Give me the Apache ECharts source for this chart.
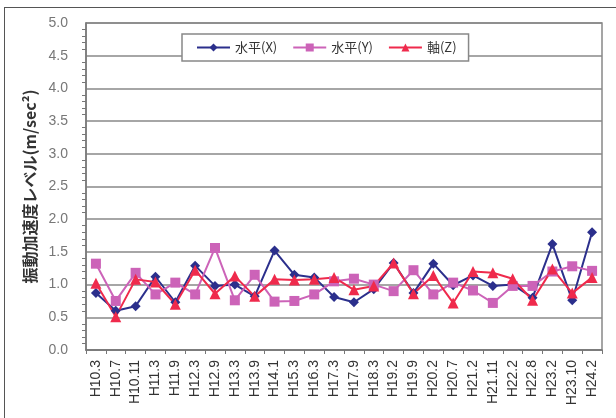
<!DOCTYPE html>
<html>
<head>
<meta charset="utf-8">
<script src="https://cdn.jsdelivr.net/npm/echarts@6/dist/echarts.min.js"></script>
<style>
html,body{margin:0;padding:0;background:#fff;}
#container1{width:616px;height:418px;}
</style>
</head>
<body>
<div id="container1"></div>
<script>
// 測定時期
var dates = ['H10.3','H10.7','H10.11','H11.3','H11.9','H12.3','H12.9','H13.3','H13.9','H14.1',
	'H15.3','H16.3','H17.3','H17.9','H18.3','H19.2','H19.9','H20.2','H20.7','H21.2',
	'H21.11','H22.2','H22.8','H23.2','H23.10','H24.2'];
// 水平(X)
var xLevel = [0.87,0.60,0.67,1.12,0.73,1.29,0.98,1.00,0.82,1.52,
	1.15,1.11,0.81,0.73,0.93,1.33,0.87,1.32,0.99,1.14,
	0.98,1.00,0.80,1.62,0.76,1.80];
// 水平(Y)
var yLevel = [1.32,0.75,1.18,0.85,1.03,0.85,1.56,0.76,1.15,0.74,
	0.75,0.85,1.05,1.09,1.00,0.90,1.22,0.85,1.03,0.91,
	0.72,0.98,0.98,1.20,1.28,1.21];
// 軸(Z)
var zLevel = [1.02,0.51,1.08,1.04,0.70,1.22,0.86,1.13,0.82,1.08,
	1.07,1.08,1.11,0.92,0.98,1.33,0.86,1.14,0.72,1.20,
	1.18,1.09,0.76,1.24,0.87,1.11];

var myChart = echarts.init(document.getElementById('container1'));

var option = {
	animation: false,
	textStyle: {fontFamily: 'Liberation Sans, Arial, sans-serif'},
	// 外枠
	graphic: [
		{type:'line', shape:{x1:4, y1:7.5, x2:616, y2:7.5}, style:{stroke:'#555', lineWidth:1}},
		{type:'line', shape:{x1:4.5, y1:7, x2:4.5, y2:418}, style:{stroke:'#555', lineWidth:1}}
	],
	grid: {
		left: 86, right: 14, top: 23, bottom: 68,
		show: true,
		borderColor: '#888',
		borderWidth: 1.5
	},
	legend: {
		left: 182, top: 34,
		padding: [7, 12, 7, 14],
		backgroundColor: '#fff',
		borderColor: '#888',
		borderWidth: 1.5,
		borderRadius: 0,
		itemWidth: 33,
		itemHeight: 10,
		itemGap: 15,
		itemStyle: {borderWidth: 0},
		textStyle: {fontSize: 13, color: '#333', fontFamily: 'Noto Sans CJK JP, sans-serif'},
		data: ['水平(X)', '水平(Y)', '軸(Z)']
	},
	xAxis: {
		type: 'category',
		data: dates,
		boundaryGap: true,
		axisLine: {lineStyle: {color: '#777', width: 1.5}},
		axisTick: {show: true, inside: false, length: 4, lineStyle: {color: '#777'}},
		axisLabel: {rotate: 90, interval: 0, margin: 10, fontSize: 14, color: '#333'}
	},
	yAxis: {
		type: 'value',
		min: 0, max: 5, interval: 0.5,
		name: '振動加速度レベル(m/sec²)',
		nameLocation: 'middle',
		nameGap: 47,
		nameRotate: 90,
		nameTextStyle: {fontSize: 16, color: '#333', fontWeight: 'bold', fontFamily: 'Noto Sans CJK JP, sans-serif'},
		axisLine: {show: true, lineStyle: {color: '#777', width: 1.5}},
		axisTick: {show: false},
		minorTick: {show: true, inside: true, splitNumber: 5, length: 4, lineStyle: {color: '#777'}},
		axisLabel: {
			fontSize: 14, color: '#777', margin: 18,
			formatter: function (v) { return v.toFixed(1); }
		},
		splitLine: {lineStyle: {color: '#888', width: 1.5}}
	},
	series: [
		{
			name: '水平(X)', type: 'line', data: xLevel,
			color: '#2b2f8c',
			symbol: 'diamond', symbolSize: 10,
			lineStyle: {width: 2}
		},
		{
			name: '水平(Y)', type: 'line', data: yLevel,
			color: '#cc63b8',
			symbol: 'rect', symbolSize: 10,
			lineStyle: {width: 2}
		},
		{
			name: '軸(Z)', type: 'line', data: zLevel,
			color: '#ef2a4c',
			symbol: 'triangle', symbolSize: 11,
			lineStyle: {width: 2}
		}
	]
};

myChart.setOption(option, true);
</script>
</body>
</html>
